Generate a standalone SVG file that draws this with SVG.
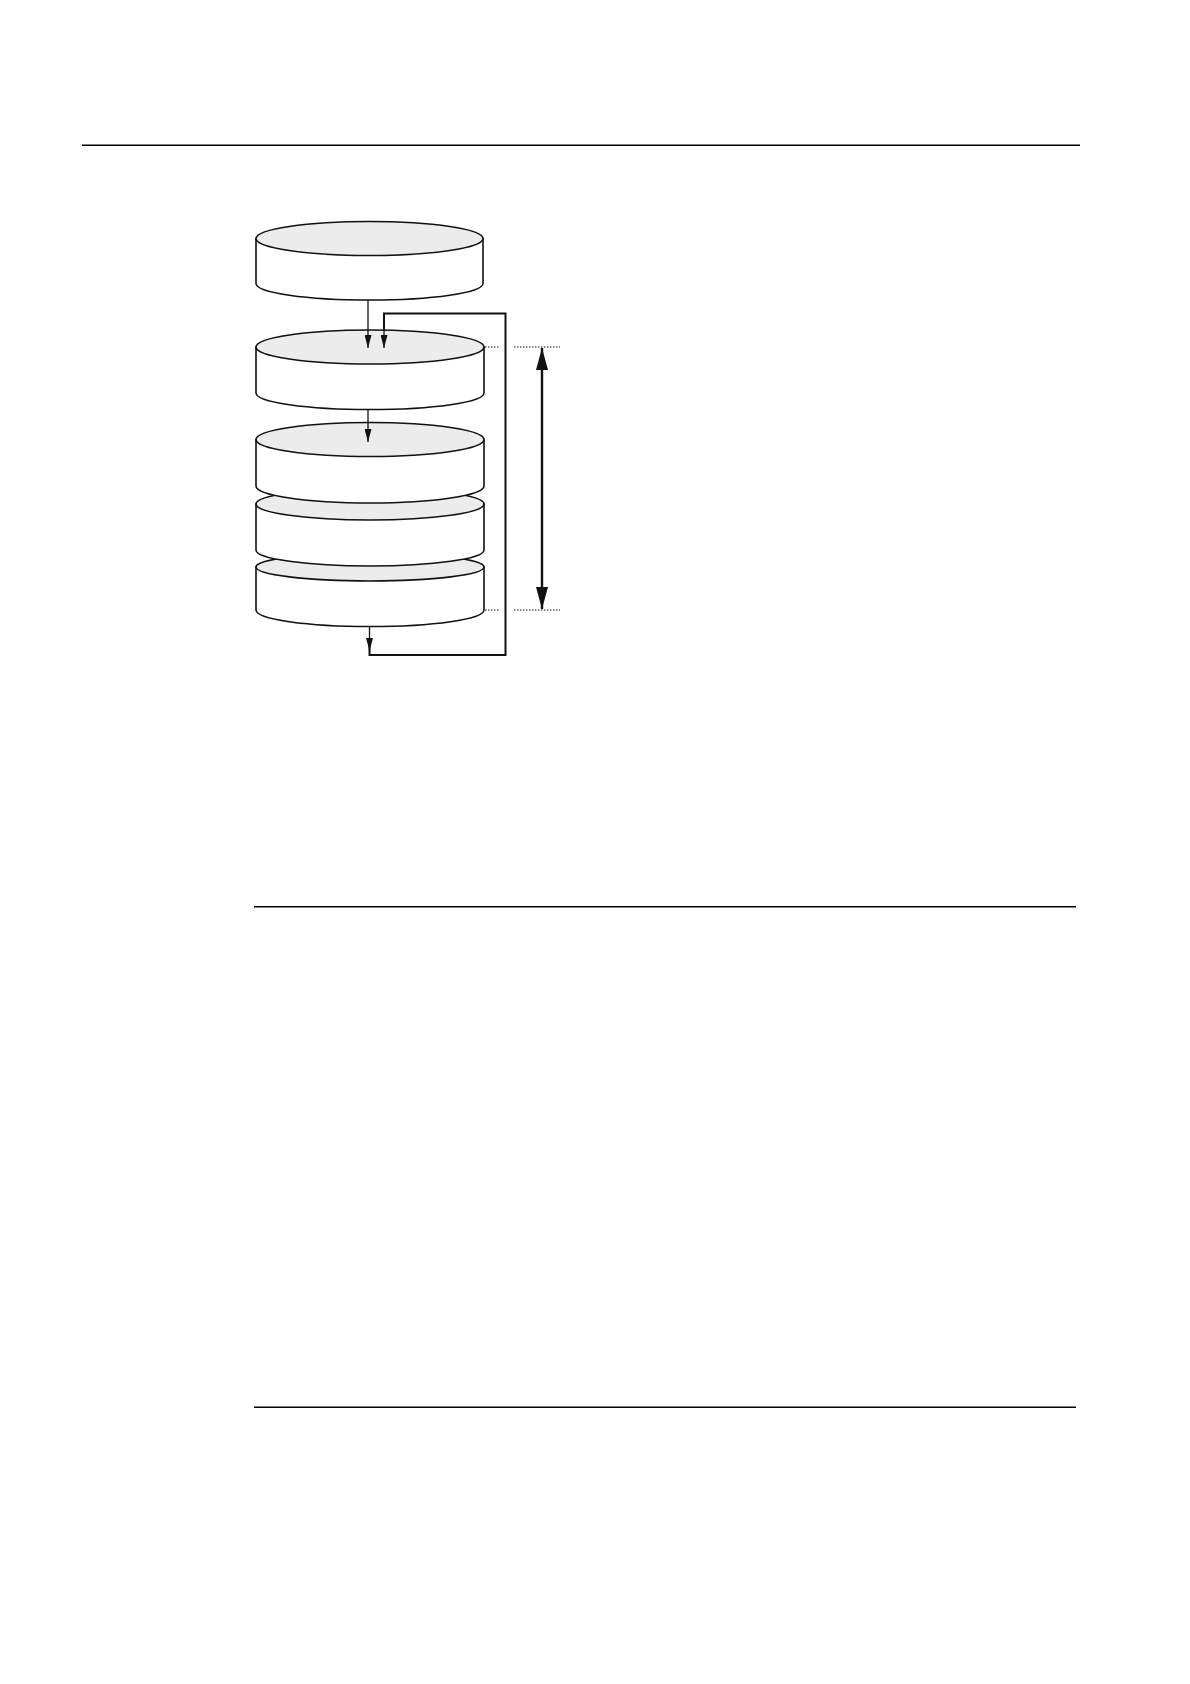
<svg xmlns="http://www.w3.org/2000/svg" width="1190" height="1684" viewBox="0 0 1190 1684">
<style>
.body{fill:#ffffff;stroke:#111;stroke-width:1.6}
.top{fill:#ececec;stroke:#111;stroke-width:1.6}
.rule{stroke:#000;stroke-width:1.6}
.thin{fill:none;stroke:#111;stroke-width:1.3}
.loop{fill:none;stroke:#111;stroke-width:2}
.dot{stroke:#111;stroke-width:1;stroke-dasharray:1.5 1.5}
.dim{stroke:#111;stroke-width:2.4}
</style>
<defs>
<marker id="ah" viewBox="0 0 13 7" refX="13" refY="3.5" markerWidth="13" markerHeight="7" markerUnits="userSpaceOnUse" orient="auto">
<path d="M0,0 L13,3.5 L0,7 Z" fill="#111"/>
</marker>
<marker id="big" viewBox="0 0 22 12" refX="22" refY="6" markerWidth="22" markerHeight="12" markerUnits="userSpaceOnUse" orient="auto-start-reverse">
<path d="M0,0 L22,6 L0,12 Z" fill="#111"/>
</marker>
</defs>
<rect width="1190" height="1684" fill="#fff"/>
<line class="rule" x1="82" y1="145.3" x2="1080" y2="145.3"/>
<line class="rule" x1="254" y1="906.7" x2="1076" y2="906.7"/>
<line class="rule" x1="254" y1="1407.3" x2="1076" y2="1407.3"/>

<g id="cyl5">
<path class="body" d="M256,567 L256,610 A114,16.5 0 0 0 484,610 L484,567 Z"/>
<ellipse class="top" cx="370" cy="567" rx="114" ry="14"/>
</g>
<g id="cyl4">
<path class="body" d="M256,504 L256,550 A114,16 0 0 0 484,550 L484,504 Z"/>
<ellipse class="top" cx="370" cy="504" rx="114" ry="16"/>
</g>
<g id="cyl3">
<path class="body" d="M256,439.5 L256,486 A114,17 0 0 0 484,486 L484,439.5 Z"/>
<ellipse class="top" cx="370" cy="439.5" rx="114" ry="17"/>
</g>
<g id="cyl2">
<path class="body" d="M256,347 L256,393 A114,16.5 0 0 0 484,393 L484,347 Z"/>
<ellipse class="top" cx="370" cy="347" rx="114" ry="17"/>
</g>
<g id="cyl1">
<path class="body" d="M256,238.5 L256,283.5 A113.5,16.5 0 0 0 483,283.5 L483,238.5 Z"/>
<ellipse class="top" cx="369.5" cy="238.5" rx="113.5" ry="17"/>
</g>

<g id="connectors">
<line class="thin" x1="368" y1="300" x2="368" y2="348" marker-end="url(#ah)"/>
<line class="thin" x1="368" y1="409.5" x2="368" y2="442" marker-end="url(#ah)"/>
<line class="thin" x1="369.5" y1="626" x2="369.5" y2="651" marker-end="url(#ah)"/>
<polyline class="loop" points="369.5,645 369.5,655 505.5,655 505.5,313.5 384,313.5 384,330"/>
<line class="thin" x1="384" y1="330" x2="384" y2="348" marker-end="url(#ah)"/>
<line class="dim" x1="542" y1="348" x2="542" y2="609" marker-start="url(#big)" marker-end="url(#big)"/>
<line class="dot" x1="485" y1="347" x2="499" y2="347"/>
<line class="dot" x1="514" y1="347" x2="560" y2="347"/>
<line class="dot" x1="485" y1="610" x2="499" y2="610"/>
<line class="dot" x1="514" y1="610" x2="560" y2="610"/>
</g>
</svg>
